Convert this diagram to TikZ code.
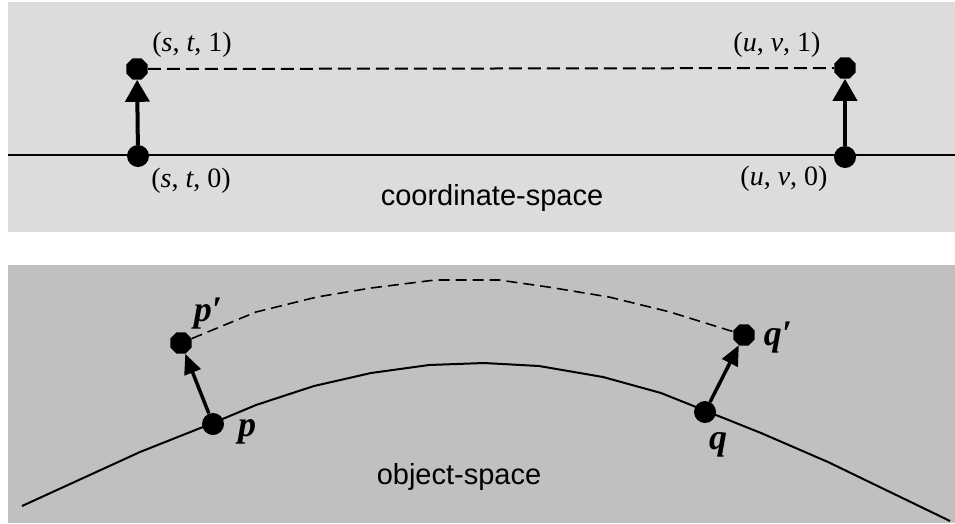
\documentclass[tikz,border=0pt]{standalone}
\usepackage{fontspec}
\setmainfont{Liberation Serif}
\setsansfont{Liberation Sans}
\usetikzlibrary{shapes.geometric, arrows.meta}
\definecolor{coordbg}{gray}{0.863}
\definecolor{objbg}{gray}{0.753}
\tikzset{
  dot/.style={circle, fill=black, inner sep=0pt, minimum size=22pt},
  tipdot/.style={regular polygon, regular polygon sides=8, fill=black,
    inner sep=0pt, minimum size=23pt},
  coordlabel/.style={font=\fontsize{28}{28}\selectfont, inner sep=0pt},
  objlabel/.style={font=\fontsize{36}{36}\selectfont\bfseries\itshape, inner sep=0pt},
  spacelabel/.style={font=\fontsize{29}{29}\selectfont\sffamily, anchor=base, inner sep=0pt},
  vec/.style={-{Triangle[length=22pt,width=24pt]}, line width=4pt},
  objvec/.style={-{Triangle[length=20pt,width=17pt]}, line width=3.5pt},
  link/.style={dash pattern=on 13pt off 6pt, line width=2pt},
  objlink/.style={dash pattern=on 11pt off 6pt, line width=1.6pt},
  surface/.style={line width=2pt, line join=round},
}

\begin{document}
\begin{tikzpicture}[x=1pt, y=-1pt]
    \useasboundingbox (0,0) rectangle (955,523);

    %% Panels
    \fill[coordbg] (8,2) rectangle (955,232);
    \fill[objbg] (8,265) rectangle (955,523);

    %% Coordinate space
    \draw[surface] (8,155) -- (955,155);
    \node[dot] (st0) at (138,156) {};
    \node[tipdot] (st1) at (137,69) {};
    \node[dot] (uv0) at (845,157) {};
    \node[tipdot] (uv1) at (845,68) {};
    \draw[link] (st1) -- (uv1);
    \draw[vec] (st0) -- (st1);
    \draw[vec] (uv0) -- (uv1);

    \node[coordlabel] (lst1) at (192,45) {(\textit{s}, \textit{t}, 1)};
    \node[coordlabel] (lst0) at (191,181) {(\textit{s}, \textit{t}, 0)};
    \node[coordlabel] (luv1) at (777,45) {(\textit{u}, \textit{v}, 1)};
    \node[coordlabel] (luv0) at (784,179) {(\textit{u}, \textit{v}, 0)};
    \node[spacelabel] (coordname) at (492,205) {coordinate-space};

    %% Object space
    \draw[surface] (22,506) -- (140,452) -- (213,423) -- (256,405) -- (314,386)
      -- (371,373) -- (429,365) -- (484,363) -- (539,366) -- (603,377)
      -- (661,393) -- (706,411) -- (761,433) -- (828,462) -- (950,521);
    \node[dot] (p) at (213,424) {};
    \node[tipdot] (pp) at (181,343) {};
    \node[dot] (q) at (705,412) {};
    \node[tipdot] (qq) at (744,335) {};
    \draw[objlink] (pp) -- (256,312) -- (317,297) -- (371,288) -- (435,280)
      -- (499,280) -- (548,287) -- (609,297) -- (670,312) -- (qq);
    \draw[objvec] (p) -- (pp);
    \draw[objvec] (q) -- (qq);

    \node[objlabel] (lpp) at (208,314) {p′};
    \node[objlabel] (lp) at (247,432) {p};
    \node[objlabel] (lq) at (718,445) {q};
    \node[objlabel] (lqq) at (778,338) {q′};
    \node[spacelabel] (objname) at (459,484) {object-space};

\end{tikzpicture}
\end{document}
